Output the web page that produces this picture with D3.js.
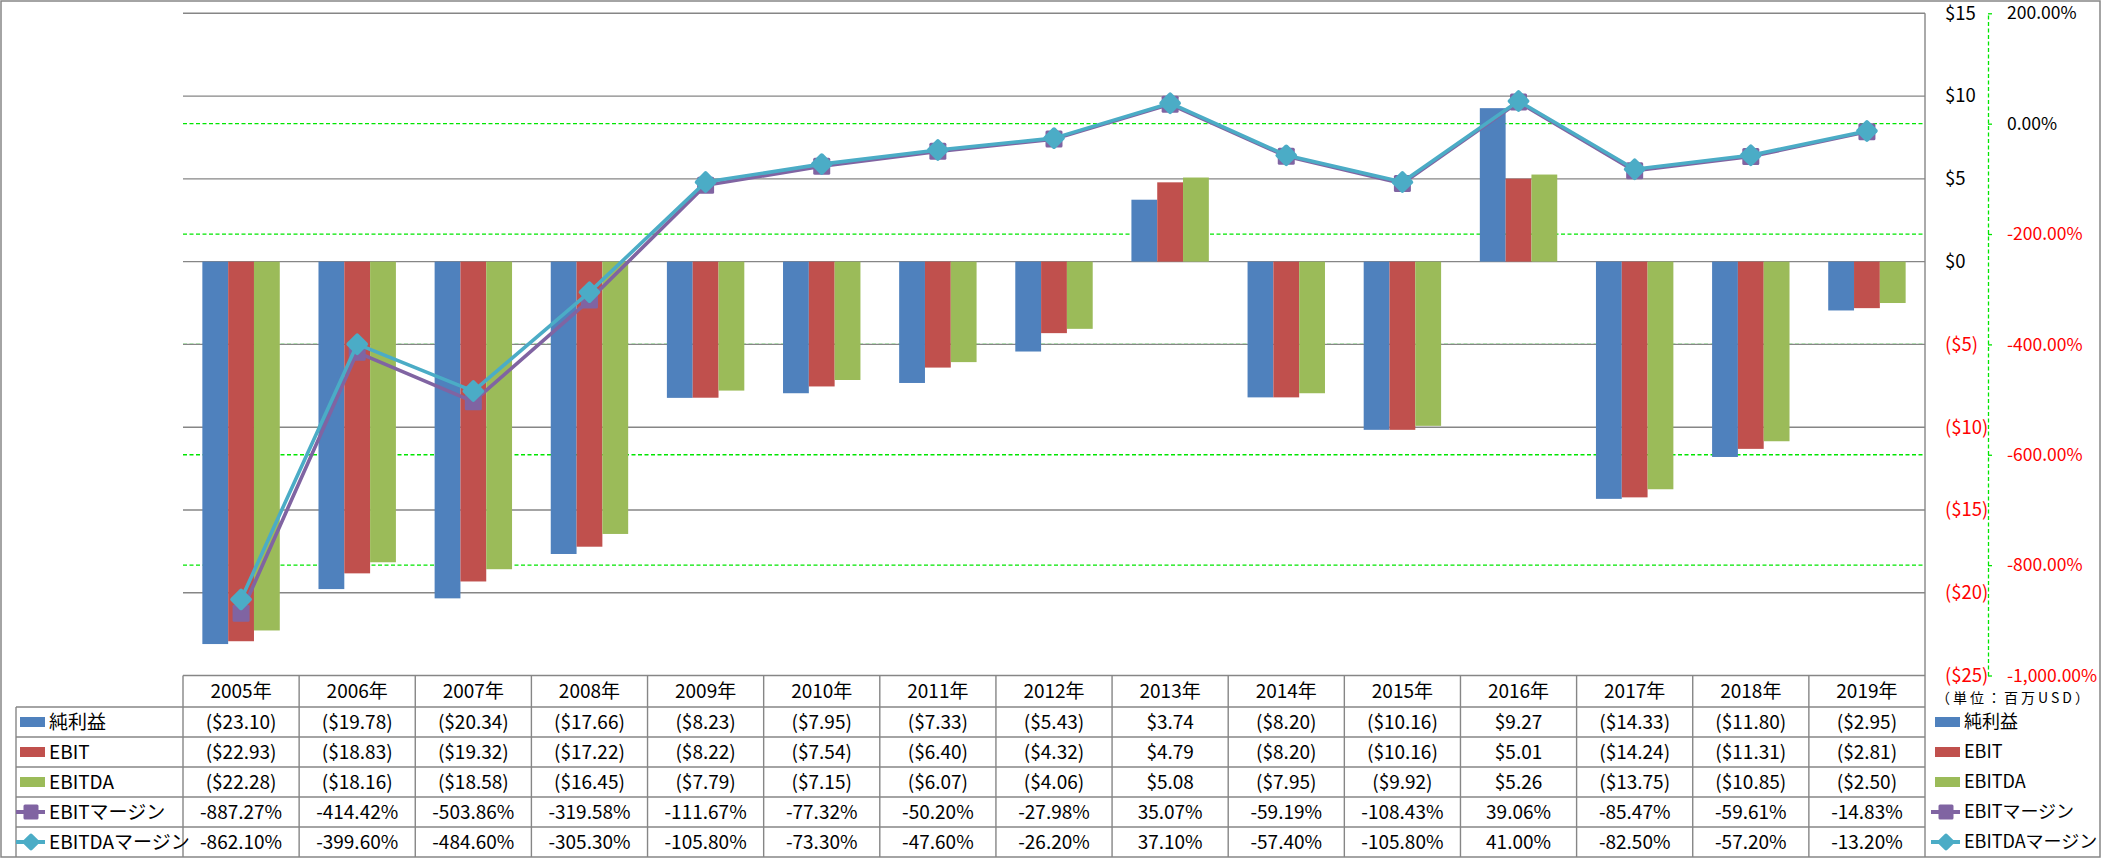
<!DOCTYPE html>
<html><head><meta charset="utf-8">
<script src="https://cdn.jsdelivr.net/npm/d3@7"></script>
<style>
body{margin:0;background:#fff;}
svg{display:block;}
text{font-family:'Liberation Sans Narrow','Noto Sans CJK JP',sans-serif;}
</style></head><body><svg id="c" width="2101" height="858"></svg>
<script>
// ---------- data ----------
const years = ["2005年","2006年","2007年","2008年","2009年","2010年","2011年","2012年","2013年","2014年","2015年","2016年","2017年","2018年","2019年"];
const netIncome = [-23.10,-19.78,-20.34,-17.66,-8.23,-7.95,-7.33,-5.43,3.74,-8.20,-10.16,9.27,-14.33,-11.80,-2.95];
const ebit      = [-22.93,-18.83,-19.32,-17.22,-8.22,-7.54,-6.40,-4.32,4.79,-8.20,-10.16,5.01,-14.24,-11.31,-2.81];
const ebitda    = [-22.28,-18.16,-18.58,-16.45,-7.79,-7.15,-6.07,-4.06,5.08,-7.95,-9.92,5.26,-13.75,-10.85,-2.50];
const ebitMargin   = [-887.27,-414.42,-503.86,-319.58,-111.67,-77.32,-50.20,-27.98,35.07,-59.19,-108.43,39.06,-85.47,-59.61,-14.83];
const ebitdaMargin = [-862.10,-399.60,-484.60,-305.30,-105.80,-73.30,-47.60,-26.20,37.10,-57.40,-105.80,41.00,-82.50,-57.20,-13.20];
const seriesNames = ["純利益","EBIT","EBITDA","EBITマージン","EBITDAマージン"];
const dollarTicks = [15,10,5,0,-5,-10,-15,-20,-25];
const pctTicks = [200,0,-200,-400,-600,-800,-1000];
const unitLabel = "（単位：百万USD）";

// ---------- styles ----------
const colors = {"純利益":"#4F81BD","EBIT":"#C0504D","EBITDA":"#9BBB59","EBITマージン":"#8064A2","EBITDAマージン":"#4BACC6"};
const gray = "#868686", green = "#00E600", red = "#FF0000";

const svg = d3.select("#c");
const plot = {l:183, r:1925, t:13.3, b:675.5};
const x = d3.scaleBand().domain(years).range([plot.l, plot.r]).padding(0);
const barNames = seriesNames.slice(0,3);
const barData = [netIncome, ebit, ebitda];
const xs = d3.scaleBand().domain(barNames).range([0, x.bandwidth()]).paddingInner(0).paddingOuter(0.75);
const yL = d3.scaleLinear().domain([-25,15]).range([plot.b, plot.t]);
const yR = d3.scaleLinear().domain([-1000,200]).range([plot.b, plot.t]);

const fmtMoney = v => v < 0 ? "($" + d3.format(".2f")(-v) + ")" : "$" + d3.format(".2f")(v);
const fmtDollarTick = v => v < 0 ? "($" + (-v) + ")" : "$" + v;
const fmtPct = v => (v < 0 ? "-" : "") + d3.format(",.2f")(Math.abs(v)) + "%";

// outer border
svg.append("rect").attr("x",1).attr("y",1).attr("width",2099).attr("height",856)
  .attr("fill","#fff").attr("stroke",gray).attr("stroke-width",1.5);

// green dashed gridlines (percent axis)
svg.append("g").selectAll("line").data(pctTicks.filter(d => d !== 200 && d !== -1000)).join("line")
  .attr("x1",plot.l).attr("x2",plot.r).attr("y1",d=>yR(d)).attr("y2",d=>yR(d))
  .attr("stroke",green).attr("stroke-width",1.3).attr("stroke-dasharray","4,2.5");

// gray gridlines
svg.append("g").selectAll("line").data(dollarTicks).join("line")
  .attr("x1",plot.l).attr("x2",plot.r).attr("y1",d=>yL(d)).attr("y2",d=>yL(d))
  .attr("stroke",gray).attr("stroke-width",1.4);

// bars
barNames.forEach((name,si) => {
  svg.append("g").selectAll("rect").data(years).join("rect")
    .attr("x", (d) => x(d) + xs(name))
    .attr("width", xs.bandwidth())
    .attr("y", (d,i) => Math.min(yL(0), yL(barData[si][i])))
    .attr("height", (d,i) => Math.abs(yL(barData[si][i]) - yL(0)))
    .attr("fill", colors[name]);
});

// lines
const lineData = [[seriesNames[3], ebitMargin, "square"], [seriesNames[4], ebitdaMargin, "diamond"]];
const cx = d => x(d) + x.bandwidth()/2;
function marker(g, type, color, px, py, s) {
  if (type === "square") {
    g.append("rect").attr("x",px-s/2).attr("y",py-s/2).attr("width",s).attr("height",s)
      .attr("rx",1.5).attr("fill",color);
  } else {
    g.append("rect").attr("x",-s/2).attr("y",-s/2).attr("width",s).attr("height",s).attr("rx",2)
      .attr("fill",color).attr("transform",`translate(${px},${py}) rotate(45)`);
  }
}
lineData.forEach(([name, vals, type]) => {
  const g = svg.append("g");
  const line = d3.line().x((d,i)=>cx(years[i])).y(d=>yR(d));
  g.append("path").attr("d", line(vals)).attr("fill","none")
    .attr("stroke",colors[name]).attr("stroke-width",3.6).attr("stroke-linejoin","round");
  vals.forEach((v,i) => marker(g, type, colors[name], cx(years[i]), yR(v), type==="square"?17:16.5));
});

// plot right border
svg.append("line").attr("x1",plot.r).attr("x2",plot.r).attr("y1",plot.t).attr("y2",857)
  .attr("stroke",gray).attr("stroke-width",1.4);

// left ($) axis labels
const axL = svg.append("g").attr("transform",`translate(1945,0)`)
  .call(d3.axisRight(yL).tickValues(dollarTicks).tickFormat(fmtDollarTick).tickSize(0).tickPadding(0));
axL.select(".domain").remove();
axL.selectAll("text").attr("font-size",18.5).attr("font-family",null)
  .attr("fill", d => d < 0 ? red : "#000");

// right (%) axis
const axR = svg.append("g").attr("transform",`translate(1988,0)`)
  .call(d3.axisRight(yR).tickValues(pctTicks).tickFormat(fmtPct).tickSizeInner(4).tickSizeOuter(0).tickPadding(15));
axR.select(".domain").attr("stroke",green).attr("stroke-width",1.3).attr("stroke-dasharray","4,2.5");
axR.selectAll(".tick line").attr("stroke",green).attr("stroke-width",1.3);
axR.selectAll("text").attr("font-size",17.5).attr("font-family",null)
  .attr("fill", d => d < 0 ? red : "#000");

// ---------- data table ----------
const tableTop = plot.b, headerBottom = 707, rowH = 30, tableLeft = 16;
const rowTop = i => headerBottom + i*rowH;
const tg = svg.append("g");
seriesNames.forEach((n,i) => {
  tg.append("line").attr("x1",tableLeft).attr("x2",plot.r).attr("y1",rowTop(i)).attr("y2",rowTop(i))
    .attr("stroke",gray).attr("stroke-width",1.4);
});
years.forEach(yv => {
  tg.append("line").attr("x1",x(yv)).attr("x2",x(yv)).attr("y1",tableTop).attr("y2",857)
    .attr("stroke",gray).attr("stroke-width",1.4);
});
tg.append("line").attr("x1",tableLeft).attr("x2",tableLeft).attr("y1",headerBottom).attr("y2",857)
  .attr("stroke",gray).attr("stroke-width",1.4);

// header
tg.selectAll("text.h").data(years).join("text").attr("class","h")
  .attr("x", d => cx(d)).attr("y", (tableTop+headerBottom)/2).attr("dy","0.35em")
  .attr("text-anchor","middle").attr("font-size",19).text(d=>d);

// values
const tableVals = [netIncome, ebit, ebitda, ebitMargin, ebitdaMargin];
tableVals.forEach((vals, r) => {
  const f = r < 3 ? fmtMoney : fmtPct;
  tg.append("g").selectAll("text").data(vals).join("text")
    .attr("x",(d,i)=>cx(years[i])).attr("y", rowTop(r)+rowH/2).attr("dy","0.35em")
    .attr("text-anchor","middle").attr("font-size",19).text(d=>f(d));
});

// legend keys
function legendKey(g, name, i, x0, cy, fs) {
  const c = colors[name];
  if (i < 3) {
    g.append("rect").attr("x",x0+4).attr("y",cy-5).attr("width",25).attr("height",10).attr("fill",c);
  } else {
    g.append("line").attr("x1",x0).attr("x2",x0+29).attr("y1",cy).attr("y2",cy)
      .attr("stroke",c).attr("stroke-width",4);
    marker(g, i===3?"square":"diamond", c, x0+15, cy, i===3?15:13);
  }
  g.append("text").attr("x",x0+33).attr("y",cy).attr("dy","0.35em").attr("font-size",fs).text(name);
}
seriesNames.forEach((n,i) => legendKey(tg, n, i, tableLeft, rowTop(i)+rowH/2, 19));

// right legend
const rl = svg.append("g");
rl.append("text").attr("x",1936).attr("y",698).attr("dy","0.35em").attr("font-size",14)
  .attr("letter-spacing",3).attr("font-family","'Noto Sans CJK JP',sans-serif").text(unitLabel);
seriesNames.forEach((n,i) => legendKey(rl, n, i, 1931, rowTop(i)+rowH/2, 18));
</script></body></html>
